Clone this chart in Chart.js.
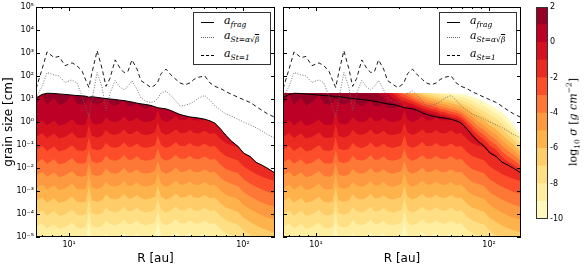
<!DOCTYPE html>
<html>
<head>
<meta charset="utf-8">
<script src="https://cdn.jsdelivr.net/npm/chart.js@4.4.0/dist/chart.umd.min.js"></script>
<style>
body { margin: 0; width: 584px; height: 266px; background: #fff; position: relative; overflow: hidden; font-family: "DejaVu Sans", sans-serif; }
canvas { position: absolute; top: 0; }
.leg { position: absolute; top: 12px; width: 78px; height: 53px; border: 1px solid #333; background: #fff; box-sizing: border-box; }
.smp { position: absolute; left: 7px; width: 13px; height: 0; }
.lab { position: absolute; left: 30px; font: italic 11px "DejaVu Serif", serif; line-height: 12px; white-space: nowrap; color: #000; }
.lab sub { font-size: 7.5px; vertical-align: -3px; }
.ovl { text-decoration: overline; }
#cbl { position: absolute; left: 573px; top: 122px; transform: translate(-50%, -50%) rotate(-90deg); font: 11px "DejaVu Serif", serif; white-space: nowrap; color: #000; }
#cbl sub, #cbl sup { font-size: 7.5px; }
</style>
</head>
<body>
<canvas id="left" width="280" height="266" style="left:0"></canvas>
<canvas id="right" width="250" height="266" style="left:280px"></canvas>
<canvas id="cbar" width="54" height="266" style="left:530px"></canvas>
<div id="cbl">log<sub>10</sub> <i>σ</i> [<i>g cm</i><sup>−2</sup>]</div>
<script>
// radius grid [au]
const R = [6.46, 6.99, 7.47, 8.19, 8.75, 9.48, 10.4, 11.1, 11.9, 12.5,
  13.0, 13.5, 14.5, 15.5, 16.3, 17.2, 18.4, 19.6, 20.7, 21.8,
  23.0, 24.6, 25.9, 27.7, 29.6, 31.2, 32.4, 33.8, 36.1, 38.5,
  41.2, 43.4, 46.4, 49.6, 52.2, 55.8, 60.4, 64.6, 69.0, 74.7,
  79.8, 86.4, 93.5, 101, 110, 119, 129, 139, 153];

// grain sizes, log10 cm
const aFrag = [1.05, 1.2, 1.25, 1.24, 1.22, 1.2, 1.17, 1.15, 1.14, 1.12,
  1.08, 1.1, 1.07, 1.04, 1.02, 1.0, 0.98, 0.95, 0.93, 0.9,
  0.87, 0.82, 0.79, 0.76, 0.72, 0.66, 0.62, 0.6, 0.57, 0.5,
  0.4, 0.33, 0.27, 0.22, 0.2, 0.17, 0.12, 0.05, -0.05, -0.32,
  -0.58, -0.85, -1.05, -1.35, -1.5, -1.75, -1.88, -2.02, -2.22];
const aDrift = [1.05, 1.55, 2.15, 2.05, 2.0, 1.72, 1.83, 1.7, 1.1, 0.6,
  0.22, 0.9, 2.15, 1.5, 0.5, 1.25, 1.8, 1.52, 1.4, 1.55,
  1.8, 1.4, 1.05, 0.9, 0.84, 0.9, 1.04, 1.25, 1.35, 1.15,
  0.9, 0.7, 0.72, 0.8, 0.88, 1.05, 1.15, 0.95, 0.7, 0.5,
  0.35, 0.25, 0.12, 0.0, -0.12, -0.25, -0.4, -0.55, -0.7];
const aSt1 = [1.45, 2.3, 3.05, 2.8, 2.85, 2.45, 2.57, 2.45, 2.2, 1.8,
  1.5, 2.1, 3.1, 2.3, 1.55, 1.9, 2.7, 2.35, 2.15, 2.2,
  2.7, 2.3, 1.8, 1.65, 1.5, 1.6, 1.75, 2.1, 2.3, 2.05,
  1.85, 1.7, 1.62, 1.7, 1.85, 1.95, 2.0, 1.7, 1.55, 1.45,
  1.32, 1.2, 1.08, 0.97, 0.85, 0.68, 0.5, 0.35, 0.2];

// lower edge of log sigma > level (log10 cm)
const lo1 = [0.75, 1.2, 0.75, 1.05, 0.72, 0.85, 1.17, 0.8, 0.75, 0.85,
  1.02, 0.85, 0.75, 0.85, 1.02, 0.8, 0.7, 0.8, 0.93, 0.7,
  0.68, 0.82, 0.65, 0.6, 0.65, 0.66, 0.62, 0.60, 0.55, 0.50,
  0.40, 0.33, 0.27, 0.22, 0.20, 0.17, 0.12, 0.05, -0.05, -0.32,
  -0.58, -0.85, -1.05, -1.35, -1.5, -1.75, -1.88, -2.02, -2.22];
const lo0 = [-0.09, 0.08, -0.14, 0.06, -0.16, -0.09, 0.11, -0.11, -0.14, -0.09,
  0.46, -0.04, -0.11, -0.04, 0.21, 0.04, -0.01, 0.07, 0.24, 0.04,
  0.04, 0.19, 0.04, -0.01, 0.04, 0.11, 0.54, 0.11, -0.01, 0.08,
  0.25, 0.08, 0.08, 0.21, 0.08, 0.06, 0.12, 0.04, -0.05, -0.32,
  -0.58, -0.85, -1.05, -1.35, -1.5, -1.75, -1.88, -2.02, -2.22];
const loM1 = [-0.65, -0.48, -0.70, -0.50, -0.72, -0.65, -0.45, -0.67, -0.70, -0.65,
  -0.10, -0.60, -0.67, -0.60, -0.35, -0.52, -0.57, -0.49, -0.32, -0.52,
  -0.52, -0.37, -0.52, -0.57, -0.52, -0.45, -0.02, -0.45, -0.57, -0.48,
  -0.31, -0.48, -0.48, -0.35, -0.48, -0.50, -0.37, -0.52, -0.48, -0.75,
  -0.92, -1.02, -1.10, -1.37, -1.55, -1.75, -1.88, -2.02, -2.22];
const loM2 = [-1.21, -1.04, -1.26, -1.06, -1.28, -1.21, -1.01, -1.23, -1.26, -1.21,
  -0.66, -1.16, -1.23, -1.16, -0.91, -1.08, -1.13, -1.05, -0.88, -1.08,
  -1.08, -0.93, -1.08, -1.13, -1.08, -1.01, -0.58, -1.01, -1.13, -1.04,
  -0.87, -1.04, -1.04, -0.91, -1.04, -1.06, -0.93, -1.08, -1.04, -1.31,
  -1.48, -1.58, -1.66, -1.93, -2.11, -2.26, -2.38, -2.48, -2.56];
const loM3 = [-1.77, -1.60, -1.82, -1.62, -1.84, -1.77, -1.57, -1.79, -1.82, -1.77,
  -1.22, -1.72, -1.79, -1.72, -1.47, -1.64, -1.69, -1.61, -1.44, -1.64,
  -1.64, -1.49, -1.64, -1.69, -1.64, -1.57, -1.14, -1.57, -1.69, -1.60,
  -1.43, -1.60, -1.60, -1.47, -1.60, -1.62, -1.49, -1.64, -1.60, -1.87,
  -2.04, -2.14, -2.22, -2.49, -2.67, -2.82, -2.94, -3.04, -3.12];
const loM4 = [-2.33, -2.16, -2.38, -2.18, -2.40, -2.33, -2.13, -2.35, -2.38, -2.33,
  -1.78, -2.28, -2.35, -2.28, -2.03, -2.20, -2.25, -2.17, -2.00, -2.20,
  -2.20, -2.05, -2.20, -2.25, -2.20, -2.13, -1.70, -2.13, -2.25, -2.16,
  -1.99, -2.16, -2.16, -2.03, -2.16, -2.18, -2.05, -2.20, -2.16, -2.43,
  -2.60, -2.70, -2.78, -3.05, -3.23, -3.38, -3.50, -3.60, -3.68];
const loM5 = [-2.89, -2.72, -2.94, -2.74, -2.96, -2.89, -2.69, -2.91, -2.94, -2.89,
  -2.25, -2.84, -2.91, -2.84, -2.59, -2.76, -2.81, -2.73, -2.56, -2.76,
  -2.76, -2.61, -2.76, -2.81, -2.76, -2.69, -2.22, -2.69, -2.81, -2.72,
  -2.55, -2.72, -2.72, -2.59, -2.72, -2.74, -2.61, -2.76, -2.72, -2.99,
  -3.16, -3.26, -3.34, -3.61, -3.79, -3.94, -4.06, -4.16, -4.24];
const loM6 = [-3.45, -3.28, -3.50, -3.30, -3.52, -3.45, -3.25, -3.47, -3.50, -3.45,
  -2.78, -3.40, -3.47, -3.40, -3.15, -3.32, -3.37, -3.29, -3.12, -3.32,
  -3.32, -3.17, -3.32, -3.37, -3.32, -3.25, -2.75, -3.25, -3.37, -3.28,
  -3.11, -3.28, -3.28, -3.15, -3.28, -3.30, -3.17, -3.32, -3.28, -3.55,
  -3.72, -3.82, -3.90, -4.17, -4.35, -4.50, -4.62, -4.72, -4.80];
const loM7 = [-4.01, -3.84, -4.06, -3.86, -4.08, -4.01, -3.81, -4.03, -4.06, -4.01,
  -3.32, -3.96, -4.03, -3.96, -3.71, -3.88, -3.93, -3.85, -3.68, -3.88,
  -3.88, -3.73, -3.88, -3.93, -3.88, -3.81, -3.30, -3.81, -3.93, -3.84,
  -3.67, -3.84, -3.84, -3.71, -3.84, -3.86, -3.73, -3.88, -3.84, -4.11,
  -4.28, -4.38, -4.46, -4.73, -4.91, -5.06, -5.18, -5.28, -5.36];
const loM8 = [-4.57, -4.40, -4.62, -4.42, -4.64, -4.57, -4.37, -4.59, -4.62, -4.57,
  -3.86, -4.52, -4.59, -4.52, -4.27, -4.44, -4.49, -4.41, -4.24, -4.44,
  -4.44, -4.29, -4.44, -4.49, -4.44, -4.37, -3.85, -4.37, -4.49, -4.40,
  -4.23, -4.40, -4.40, -4.27, -4.40, -4.42, -4.29, -4.44, -4.40, -4.67,
  -4.84, -4.94, -5.02, -5.29, -5.47, -5.62, -5.74, -5.84, -5.92];
const loM9 = [-5.13, -4.96, -5.18, -4.98, -5.20, -5.13, -4.93, -5.15, -5.18, -5.13,
  -4.38, -5.08, -5.15, -5.08, -4.83, -5.00, -5.05, -4.97, -4.80, -5.00,
  -5.00, -4.85, -5.00, -5.05, -5.00, -4.93, -4.35, -4.93, -5.05, -4.96,
  -4.79, -4.96, -4.96, -4.83, -4.96, -4.98, -4.85, -5.00, -4.96, -5.23,
  -5.40, -5.50, -5.58, -5.85, -6.03, -6.18, -6.30, -6.40, -6.48];

// upper edge of log sigma > level, right panel only (log10 cm)
const up1 = [1.25, 1.25, 1.25, 1.25, 1.25, 1.25, 1.25, 1.25, 1.25, 1.25,
  1.25, 1.25, 1.25, 1.25, 1.25, 1.25, 1.25, 1.25, 1.25, 1.25,
  1.25, 1.05, 0.85, 0.85, 0.74, 0.66, 0.62, 0.60, 0.57, 0.50, 0.40, 0.33, 0.27, 0.22, 0.20, 0.17, 0.12, 0.05, -0.05, -0.32, -0.58, -0.85, -1.05, -1.35, -1.5, -1.75, -1.88, -2.02, -2.22];
const up0 = [1.25, 1.25, 1.25, 1.25, 1.25, 1.25, 1.25, 1.25, 1.25, 1.25,
  1.25, 1.25, 1.25, 1.25, 1.25, 1.25, 1.25, 1.25, 1.25, 1.25,
  1.25, 1.25, 1.25, 1.05, 0.91, 0.80, 0.62, 0.73, 0.68, 0.59, 0.50, 0.43, 0.37, 0.32, 0.23, 0.18, 0.12, 0.05, -0.05, -0.32, -0.58, -0.85, -1.05, -1.35, -1.5, -1.75, -1.88, -2.02, -2.22];
const upM1 = [1.25, 1.25, 1.25, 1.25, 1.25, 1.25, 1.25, 1.25, 1.25, 1.25,
  1.25, 1.25, 1.25, 1.25, 1.25, 1.25, 1.25, 1.25, 1.25, 1.25,
  1.25, 1.25, 1.25, 1.25, 1.08, 0.95, 0.90, 0.86, 0.79, 0.70, 0.60, 0.54, 0.48, 0.43, 0.34, 0.30, 0.21, 0.16, 0.05, -0.23, -0.48, -0.76, -0.97, -1.24, -1.45, -1.75, -1.88, -2.02, -2.22];
const upM2 = [1.25, 1.25, 1.25, 1.25, 1.25, 1.25, 1.25, 1.25, 1.25, 1.25,
  1.25, 1.25, 1.25, 1.25, 1.25, 1.25, 1.25, 1.25, 1.25, 1.25,
  1.25, 1.25, 1.25, 1.25, 1.25, 1.10, 1.04, 0.99, 0.91, 0.81, 0.72, 0.65, 0.59, 0.54, 0.46, 0.41, 0.33, 0.28, 0.18, -0.07, -0.30, -0.56, -0.76, -1.02, -1.22, -1.52, -1.73, -1.87, -2.09];
const upM3 = [1.25, 1.25, 1.25, 1.25, 1.25, 1.25, 1.25, 1.25, 1.25, 1.25,
  1.25, 1.25, 1.25, 1.25, 1.25, 1.25, 1.25, 1.25, 1.25, 1.25,
  1.25, 1.25, 1.25, 1.25, 1.25, 1.25, 1.18, 1.12, 1.02, 0.92, 0.83, 0.76, 0.70, 0.65, 0.57, 0.53, 0.45, 0.40, 0.31, 0.09, -0.13, -0.37, -0.56, -0.80, -1.00, -1.28, -1.50, -1.66, -1.90];
const upM4 = [1.25, 1.25, 1.25, 1.25, 1.25, 1.25, 1.25, 1.25, 1.25, 1.25,
  1.25, 1.25, 1.25, 1.25, 1.25, 1.25, 1.25, 1.25, 1.25, 1.25,
  1.25, 1.25, 1.25, 1.25, 1.25, 1.25, 1.25, 1.25, 1.14, 1.03, 0.94, 0.87, 0.81, 0.76, 0.69, 0.64, 0.57, 0.52, 0.44, 0.24, 0.05, -0.17, -0.35, -0.58, -0.77, -1.04, -1.26, -1.44, -1.71];
const upM5 = [1.25, 1.25, 1.25, 1.25, 1.25, 1.25, 1.25, 1.25, 1.25, 1.25,
  1.25, 1.25, 1.25, 1.25, 1.25, 1.25, 1.25, 1.25, 1.25, 1.25,
  1.25, 1.25, 1.25, 1.25, 1.25, 1.25, 1.25, 1.25, 1.25, 1.14, 1.05, 0.98, 0.92, 0.87, 0.80, 0.76, 0.69, 0.64, 0.57, 0.40, 0.23, 0.03, -0.15, -0.36, -0.55, -0.80, -1.03, -1.23, -1.52];
const upM6 = [1.25, 1.25, 1.25, 1.25, 1.25, 1.25, 1.25, 1.25, 1.25, 1.25,
  1.25, 1.25, 1.25, 1.25, 1.25, 1.25, 1.25, 1.25, 1.25, 1.25,
  1.25, 1.25, 1.25, 1.25, 1.25, 1.25, 1.25, 1.25, 1.25, 1.25, 1.16, 1.09, 1.03, 0.98, 0.92, 0.87, 0.81, 0.76, 0.70, 0.55, 0.40, 0.22, 0.06, -0.14, -0.32, -0.56, -0.79, -1.01, -1.33];
const upM7 = [1.25, 1.25, 1.25, 1.25, 1.25, 1.25, 1.25, 1.25, 1.25, 1.25,
  1.25, 1.25, 1.25, 1.25, 1.25, 1.25, 1.25, 1.25, 1.25, 1.25,
  1.25, 1.25, 1.25, 1.25, 1.25, 1.25, 1.25, 1.25, 1.25, 1.25, 1.25, 1.20, 1.14, 1.09, 1.03, 0.99, 0.93, 0.88, 0.83, 0.71, 0.58, 0.42, 0.27, 0.08, -0.10, -0.32, -0.56, -0.80, -1.14];
const upM8 = [1.25, 1.25, 1.25, 1.25, 1.25, 1.25, 1.25, 1.25, 1.25, 1.25,
  1.25, 1.25, 1.25, 1.25, 1.25, 1.25, 1.25, 1.25, 1.25, 1.25,
  1.25, 1.25, 1.25, 1.25, 1.25, 1.25, 1.25, 1.25, 1.25, 1.25, 1.25, 1.25, 1.25, 1.20, 1.15, 1.10, 1.05, 1.00, 0.96, 0.86, 0.75, 0.61, 0.47, 0.30, 0.13, -0.08, -0.32, -0.58, -0.95];
const upM9 = [1.25, 1.25, 1.25, 1.25, 1.25, 1.25, 1.25, 1.25, 1.25, 1.25,
  1.25, 1.25, 1.25, 1.25, 1.25, 1.25, 1.25, 1.25, 1.25, 1.25,
  1.25, 1.25, 1.25, 1.25, 1.25, 1.25, 1.25, 1.25, 1.25, 1.25, 1.25, 1.25, 1.25, 1.25, 1.25, 1.22, 1.17, 1.12, 1.09, 1.02, 0.93, 0.81, 0.68, 0.52, 0.36, 0.16, -0.09, -0.37, -0.76];
const upM10 = [1.25, 1.25, 1.25, 1.25, 1.25, 1.25, 1.25, 1.25, 1.25, 1.25,
  1.25, 1.25, 1.25, 1.25, 1.25, 1.25, 1.25, 1.25, 1.25, 1.25,
  1.25, 1.25, 1.25, 1.25, 1.25, 1.25, 1.25, 1.25, 1.25, 1.25, 1.25, 1.25, 1.25, 1.25, 1.25, 1.25, 1.25, 1.24, 1.22, 1.17, 1.10, 1.00, 0.88, 0.74, 0.58, 0.40, 0.15, -0.15, -0.57];

// colour bands, log sigma -10..2
const bandLo = [-10, -9, -8, -7, -6, -5, -4, -3, -2, -1, 0, 1];
const bandColors = ['#fff9bd', '#ffeda0', '#fedf84', '#fecc68', '#feb24c', '#fd9941',
  '#fd7836', '#fc4e2a', '#eb2b21', '#d6111f', '#bd0026', '#940026'];
const cbTicks = [2, 0, -2, -4, -6, -8, -10];

const xTicks = [7, 8, 9, 10, 20, 30, 40, 50, 60, 70, 80, 90, 100];
const xMajor = [10, 100];
const yExp = [-5, -4, -3, -2, -1, 0, 1, 2, 3, 4, 5];

const supMap = {'-': '\u207B', '0': '\u2070', '1': '\u00B9', '2': '\u00B2', '3': '\u00B3',
  '4': '\u2074', '5': '\u2075', '6': '\u2076', '7': '\u2077', '8': '\u2078', '9': '\u2079'};
function pow10Label(e) {
  return '10' + String(e).split('').map(c => supMap[c]).join('');
}

Chart.defaults.font.family = '"DejaVu Sans", sans-serif';
Chart.defaults.color = '#000';

const toPts = arr => arr.map((v, i) => ({x: R[i], y: Math.pow(10, v)}));

function lineSets() {
  return [
    {data: toPts(aSt1), borderColor: '#000', borderWidth: 0.9, borderDash: [4, 3], fill: false},
    {data: toPts(aDrift), borderColor: '#666', borderWidth: 0.9, borderDash: [1, 1.6], fill: false},
    {data: toPts(aFrag), borderColor: '#000', borderWidth: 1, fill: false}
  ];
}
function fillSet(arr, color) {
  return {data: toPts(arr), fill: 'start', backgroundColor: color, borderColor: color, borderWidth: 0};
}
// dataset 0 is drawn last, so the lowest contour comes first
const lowLevels = [loM9, loM8, loM7, loM6, loM5, loM4, loM3, loM2, loM1, lo0, lo1];
const upLevels = [up1, up0, upM1, upM2, upM3, upM4, upM5, upM6, upM7, upM8, upM9, upM10];

const frame = {
  id: 'frame',
  afterDatasetsDraw(chart) {
    const {ctx, chartArea: a, scales} = chart;
    ctx.save();
    ctx.strokeStyle = '#000';
    ctx.lineWidth = 1;
    ctx.beginPath();
    scales.x.ticks.forEach(t => {
      const px = Math.round(scales.x.getPixelForValue(t.value)) + 0.5;
      const len = xMajor.includes(t.value) ? 4 : 2;
      ctx.moveTo(px, a.bottom); ctx.lineTo(px, a.bottom - len);
      ctx.moveTo(px, a.top); ctx.lineTo(px, a.top + len);
    });
    scales.y.ticks.forEach(t => {
      const py = Math.round(scales.y.getPixelForValue(t.value)) + 0.5;
      ctx.moveTo(a.left, py); ctx.lineTo(a.left + 4, py);
      ctx.moveTo(a.right, py); ctx.lineTo(a.right - 4, py);
    });
    ctx.stroke();
    ctx.strokeRect(Math.round(a.left) + 0.5, Math.round(a.top) + 0.5, Math.round(a.width) - 1, Math.round(a.height) - 1);
    ctx.restore();
  }
};

function panelOptions(showY, yWidth, padRight) {
  return {
    responsive: false,
    animation: false,
    devicePixelRatio: 1,
    layout: {padding: {top: 7, right: padRight, bottom: 0, left: 0}},
    elements: {point: {radius: 0}, line: {tension: 0}},
    plugins: {legend: {display: false}, tooltip: {enabled: false}},
    scales: {
      x: {
        type: 'logarithmic', min: 6.45, max: 153,
        grid: {display: false, drawTicks: false}, border: {display: false},
        afterBuildTicks: s => { s.ticks = xTicks.map(v => ({value: v})); },
        afterFit: s => { s.height = 29; },
        ticks: {autoSkip: false, maxRotation: 0, padding: 3, font: {size: 8},
          callback: v => xMajor.includes(v) ? pow10Label(Math.round(Math.log10(v))) : ''},
        title: {display: true, text: 'R [au]', font: {size: 12}, padding: {top: 0, bottom: 0}}
      },
      y: {
        type: 'logarithmic', min: 1e-5, max: 1e5,
        grid: {display: false, drawTicks: false}, border: {display: false},
        afterBuildTicks: s => { s.ticks = yExp.map(e => ({value: Math.pow(10, e)})); },
        afterFit: s => { s.width = yWidth; },
        ticks: {display: showY, autoSkip: false, padding: 2, font: {size: 8},
          callback: v => pow10Label(Math.round(Math.log10(v)))},
        title: {display: showY, text: 'grain size [cm]', font: {size: 12}, padding: {top: 2, bottom: 0}}
      }
    }
  };
}

new Chart(document.getElementById('left'), {
  type: 'line',
  data: {datasets: [
    ...lineSets(),
    ...lowLevels.map((arr, j) => fillSet(arr, bandColors[j])),
    fillSet(aFrag, bandColors[11])
  ]},
  options: panelOptions(true, 36, 5),
  plugins: [frame]
});

new Chart(document.getElementById('right'), {
  type: 'line',
  data: {datasets: [
    ...lineSets(),
    ...lowLevels.map((arr, j) => fillSet(arr, bandColors[j])),
    ...upLevels.map((arr, j) => fillSet(arr, bandColors[11 - j]))
  ]},
  options: panelOptions(false, 3, 9),
  plugins: [frame]
});

new Chart(document.getElementById('cbar'), {
  type: 'bar',
  data: {
    labels: ['s'],
    datasets: bandLo.map((lo, j) => ({
      data: [[lo, lo + 1]], backgroundColor: bandColors[j], borderWidth: 0,
      grouped: false, barPercentage: 1, categoryPercentage: 1
    }))
  },
  options: {
    responsive: false, animation: false, devicePixelRatio: 1,
    layout: {padding: {top: 7, right: 0, bottom: 47, left: 6}},
    plugins: {legend: {display: false}, tooltip: {enabled: false}},
    scales: {
      x: {display: false},
      y: {
        position: 'right', min: -10, max: 2,
        grid: {display: false, drawTicks: false}, border: {display: false},
        afterBuildTicks: s => { s.ticks = cbTicks.map(v => ({value: v})); },
        afterFit: s => { s.width = 36; },
        ticks: {padding: 2, font: {size: 8}, callback: v => String(v)}
      }
    }
  },
  plugins: [{
    id: 'cbframe',
    afterDatasetsDraw(chart) {
      const {ctx, chartArea: a} = chart;
      ctx.save();
      ctx.strokeStyle = '#333';
      ctx.lineWidth = 1;
      ctx.strokeRect(Math.round(a.left) + 0.5, Math.round(a.top) + 0.5, Math.round(a.width) - 1, Math.round(a.height) - 1);
      ctx.restore();
    }
  }]
});

// legends
const legendRows = [
  {dash: 'solid', color: '#000', cy: 9, html: '<i>a</i><sub><i>frag</i></sub>'},
  {dash: 'dotted', color: '#666', cy: 24, html: '<i>a</i><sub><i>St</i>=<i>α</i>√<span class="ovl"><i>β</i></span></sub>'},
  {dash: 'dashed', color: '#000', cy: 42, html: '<i>a</i><sub><i>St</i>=1</sub>'}
];
[193, 439].forEach(left => {
  const box = document.createElement('div');
  box.className = 'leg';
  box.style.left = left + 'px';
  legendRows.forEach(r => {
    const s = document.createElement('div');
    s.className = 'smp';
    s.style.top = r.cy + 'px';
    s.style.borderTop = '1px ' + r.dash + ' ' + r.color;
    box.appendChild(s);
    const t = document.createElement('div');
    t.className = 'lab';
    t.style.top = (r.cy - 7) + 'px';
    t.innerHTML = r.html;
    box.appendChild(t);
  });
  document.body.appendChild(box);
});
</script>
</body>
</html>
